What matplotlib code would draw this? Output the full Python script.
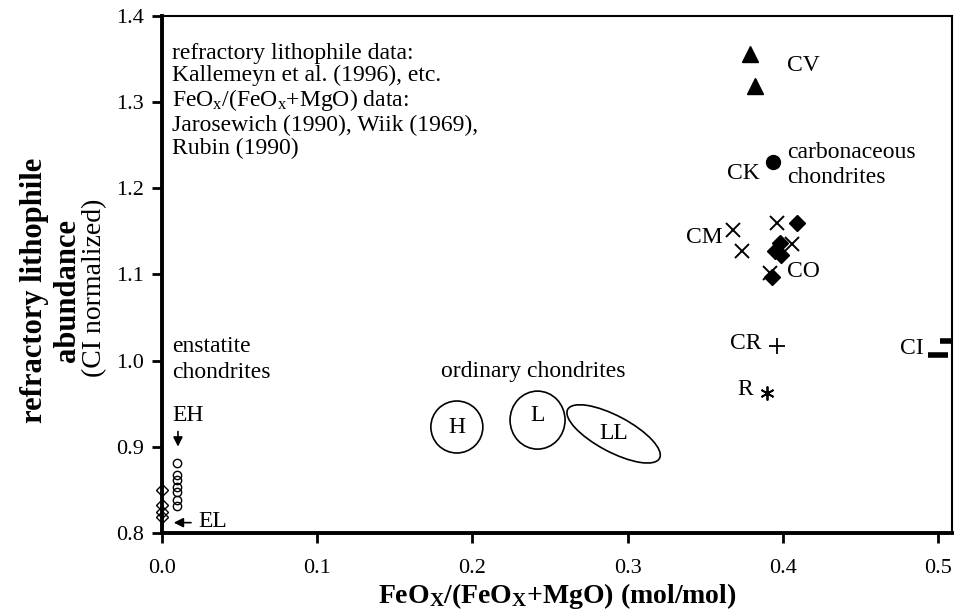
import matplotlib
matplotlib.use('Agg')
import matplotlib.pyplot as plt
import matplotlib.transforms as mtransforms
from matplotlib.patches import Ellipse

plt.rcParams['font.family'] = ['Liberation Serif', 'DejaVu Serif']
plt.rcParams['mathtext.fontset'] = 'custom'
plt.rcParams['mathtext.rm'] = 'Liberation Serif'
plt.rcParams['mathtext.it'] = 'Liberation Serif:italic'
plt.rcParams['mathtext.bf'] = 'Liberation Serif:bold'

# FeOx/(FeOx+MgO) contra abundancia refractaria normalizada a CI
cv_x = [0.379, 0.382]
cv_y = [1.356, 1.319]
ck_x = [0.394]
ck_y = [1.230]
cm_x = [0.368, 0.374, 0.396, 0.406, 0.392]
cm_y = [1.152, 1.127, 1.160, 1.135, 1.102]
co_x = [0.409, 0.398, 0.395, 0.399, 0.393]
co_y = [1.160, 1.137, 1.127, 1.123, 1.097]
cr_x = [0.396]
cr_y = [1.017]
r_x = [0.390]
r_y = [0.963]
ci_x = [0.500, 0.508]
ci_y = [1.007, 1.023]
eh_x = [0.0097] * 7
eh_y = [0.881, 0.867, 0.862, 0.853, 0.847, 0.838, 0.831]
el_x = [0.0] * 4
el_y = [0.850, 0.833, 0.824, 0.819]

# condritas ordinarias: centro (x, y), ancho y alto en pulgadas, angulo
oc_names = ['H', 'L', 'LL']
oc_x = [0.190, 0.242, 0.291]
oc_y = [0.923, 0.931, 0.915]
oc_w = [0.52, 0.55, 1.04]
oc_h = [0.52, 0.58, 0.36]
oc_ang = [0, 0, -28]

x_ticks = [0.0, 0.1, 0.2, 0.3, 0.4, 0.5]
y_ticks = [0.8, 0.9, 1.0, 1.1, 1.2, 1.3, 1.4]

fig = plt.figure(figsize=(9.55, 6.12), dpi=100)
ax = fig.add_axes([0.1696, 0.1291, 0.8272, 0.8448])
ax.set_xlim(0, 0.509)
ax.set_ylim(0.8, 1.4)

ax.plot(cv_x, cv_y, '^', color='k', ms=11, clip_on=False)
ax.plot(ck_x, ck_y, 'o', color='k', ms=10)
ax.plot(cm_x, cm_y, 'x', color='k', ms=10, mew=1.4)
ax.plot(co_x, co_y, 'D', color='k', ms=8)
ax.plot(cr_x, cr_y, '+', color='k', ms=12, mew=1.3)
ax.plot(r_x, r_y, marker=(6, 2, 0), ls='none', color='k', ms=10, mew=1.3)
ax.plot(ci_x, ci_y, '_', color='k', ms=14, mew=4)
ax.plot(eh_x, eh_y, 'o', mfc='none', mec='k', ms=6, mew=1, clip_on=False)
ax.plot(el_x, el_y, 'D', mfc='none', mec='k', ms=6, mew=1, clip_on=False)

for name, x, y, w, h, a in zip(oc_names, oc_x, oc_y, oc_w, oc_h, oc_ang):
    tr = fig.dpi_scale_trans + mtransforms.ScaledTranslation(x, y, ax.transData)
    ax.add_patch(Ellipse((0, 0), w, h, angle=a, transform=tr,
                         fill=False, ec='k', lw=1.2))
    dy = 0.005 if name == 'L' else 0
    ax.text(x, y + dy, name, fontsize=17, ha='center', va='center')

fs = 17
ax.text(0.403, 1.342, 'CV', fontsize=fs, va='center')
ax.text(0.385, 1.217, 'CK', fontsize=fs, ha='right', va='center')
ax.text(0.403, 1.227, 'carbonaceous\nchondrites', fontsize=fs, va='center',
        linespacing=1.3)
ax.text(0.3615, 1.143, 'CM', fontsize=fs, ha='right', va='center')
ax.text(0.403, 1.103, 'CO', fontsize=fs, va='center')
ax.text(0.3866, 1.020, 'CR', fontsize=fs, ha='right', va='center')
ax.text(0.381, 0.966, 'R', fontsize=fs, ha='right', va='center')
ax.text(0.4908, 1.014, 'CI', fontsize=fs, ha='right', va='center')
ax.text(0.239, 0.987, 'ordinary chondrites', fontsize=fs, ha='center', va='center')
ax.text(0.0064, 1.001, 'enstatite\nchondrites', fontsize=fs, va='center',
        linespacing=1.3)
ax.text(0.0064, 0.936, 'EH', fontsize=fs, va='center')
ax.text(0.0232, 0.813, 'EL', fontsize=fs, va='center')
ax.annotate('', xy=(0.0103, 0.897), xytext=(0.0103, 0.921),
            arrowprops=dict(arrowstyle='-|>', color='k', lw=1.2, mutation_scale=14))
ax.annotate('', xy=(0.0058, 0.812), xytext=(0.0205, 0.812),
            arrowprops=dict(arrowstyle='-|>', color='k', lw=1.2, mutation_scale=14))

# nota de fuentes, una linea por texto
nota = ['refractory lithophile data:',
        'Kallemeyn et al. (1996), etc.',
        r'FeO$_\mathrm{x}$/(FeO$_\mathrm{x}$+MgO) data:',
        'Jarosewich (1990), Wiik (1969),',
        'Rubin (1990)']
nota_y = [1.357, 1.331, 1.302, 1.273, 1.246]
for linea, yy in zip(nota, nota_y):
    ax.text(0.0064, yy, linea, fontsize=fs, va='center')

ax.set_xticks(x_ticks)
ax.set_xticklabels(['%.1f' % v for v in x_ticks])
ax.set_yticks(y_ticks)
ax.set_yticklabels(['%.1f' % v for v in y_ticks])
ax.tick_params(direction='out', length=7, width=2, labelsize=16, pad=6)
ax.tick_params(axis='x', pad=12)

for s in ['left', 'bottom']:
    ax.spines[s].set_linewidth(2.8)
for s in ['top', 'right']:
    ax.spines[s].set_linewidth(1.5)

ax.set_xlabel(r'FeO$_\mathbf{X}$/(FeO$_\mathbf{X}$+MgO) (mol/mol)',
              fontsize=20, fontweight='bold', labelpad=2)

fig.text(0.036, 0.526, 'refractory lithophile', rotation=90, fontsize=22,
         fontweight='bold', ha='center', va='center')
fig.text(0.071, 0.526, 'abundance', rotation=90, fontsize=22,
         fontweight='bold', ha='center', va='center')
fig.text(0.099, 0.53, '(CI normalized)', rotation=90, fontsize=20,
         ha='center', va='center')

fig.savefig('out.png', dpi=100)
